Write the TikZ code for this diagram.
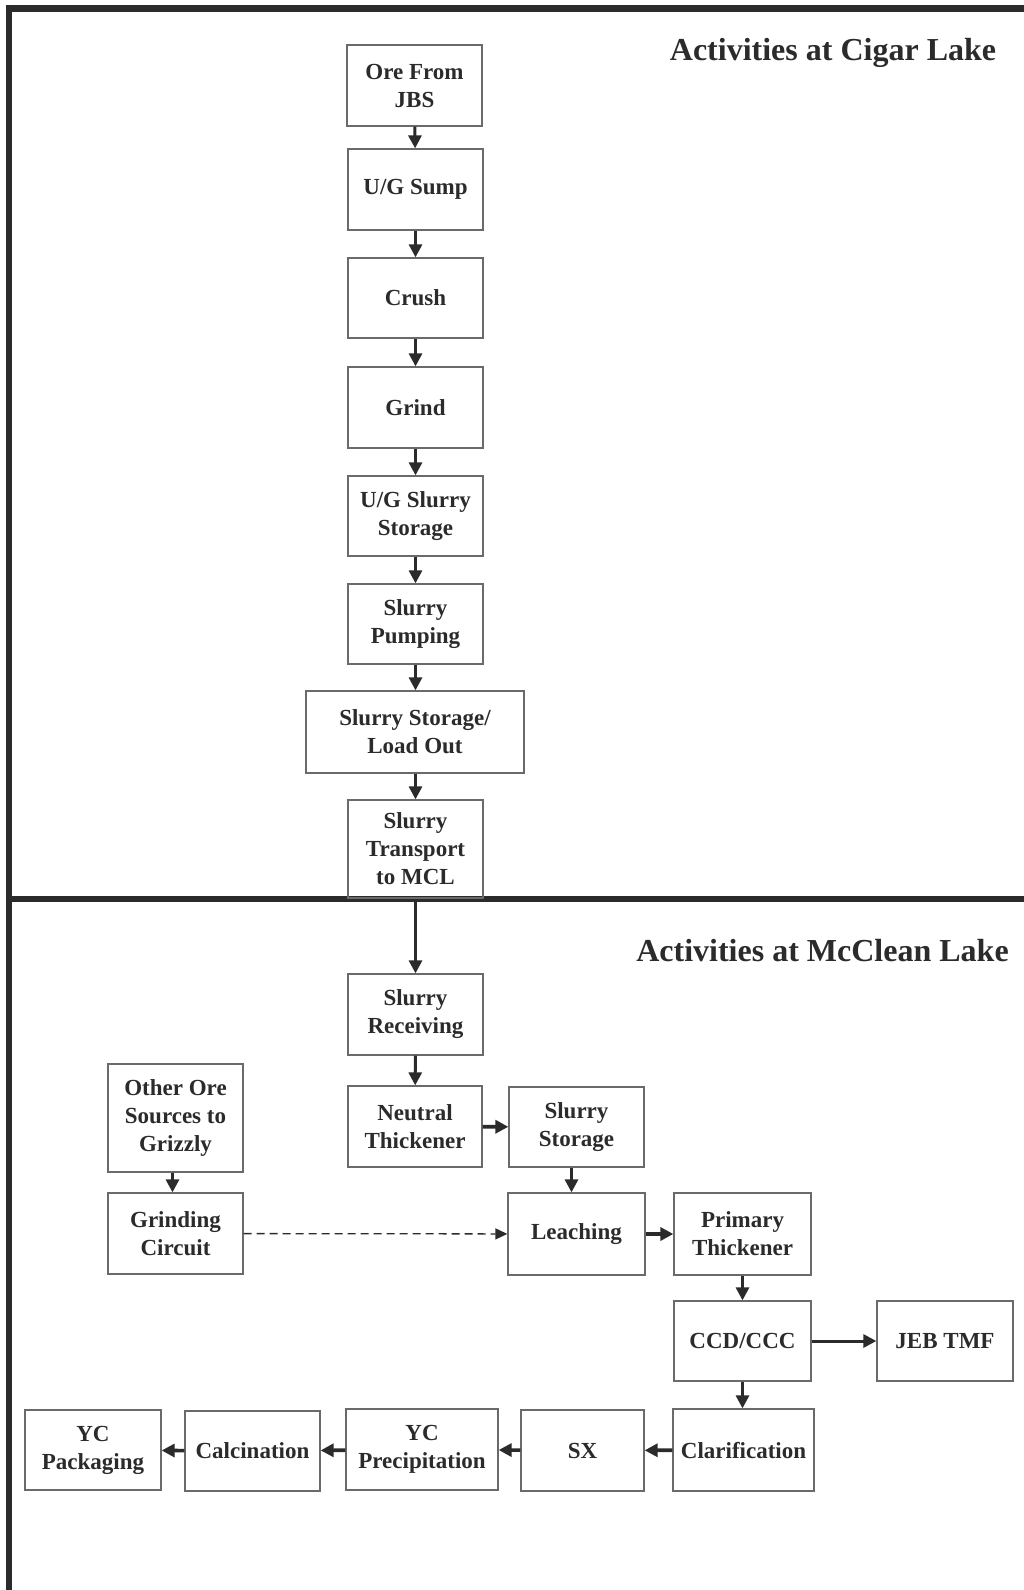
\documentclass[tikz,border=0pt]{standalone}
\usepackage{fontspec}
\setmainfont{Liberation Serif}
\usetikzlibrary{arrows.meta}
\definecolor{ink}{HTML}{2B2B2B}
\definecolor{boxline}{HTML}{6A6A6A}
\begin{document}
\begin{tikzpicture}[x=1pt,y=-1pt,
  box/.style={draw=boxline, line width=1.3pt, rectangle, align=center, inner sep=0pt,
    text=ink, font=\bfseries\fontsize{23}{28}\selectfont,
    minimum width=135pt, minimum height=81pt},
  flow/.style={draw=ink, line width=3pt, -{Triangle[length=13pt,width=13pt]}},
  hflow/.style={draw=ink, line width=3.6pt, -{Triangle[length=13pt,width=13pt]}},
  dflow/.style={draw=ink, line width=1.3pt, dash pattern=on 8pt off 5pt, -{Triangle[length=12pt,width=11pt]}},
  frame/.style={draw=ink, line width=6.5pt},
  title/.style={text=ink, font=\bfseries\fontsize{32}{36}\selectfont, inner sep=0pt, anchor=base}
]
\useasboundingbox (0,0) rectangle (1024,1590);
\fill[white] (0,0) rectangle (1024,1590);

% frame
\coordinate (tl) at (9,8.5);
\coordinate (tr) at (1024,8.5);
\coordinate (bl) at (9,1590);
\coordinate (ml) at (9,899);
\coordinate (mr) at (1024,899);
\draw[frame] ([xshift=-3.25pt]tl) -- (tr);
\draw[frame] (tl) -- (bl);
\draw[frame, line width=6pt] (ml) -- (mr);

% titles
\node[title] (t1) at (833,60) {Activities at Cigar Lake};
\node[title] (t2) at (822.5,961) {Activities at McClean Lake};

% Cigar Lake boxes
\node[box] (ore)   at (414.5,85.5) {Ore From\\JBS};
\node[box] (sump)  at (415.5,189.5) {U/G Sump};
\node[box, minimum height=80pt] (crush) at (415.5,298) {Crush};
\node[box] (grind) at (415.5,407.5) {Grind};
\node[box, minimum height=80pt] (ugss)  at (415.5,516) {U/G Slurry\\Storage};
\node[box, minimum height=80pt] (pump)  at (415.5,624) {Slurry\\Pumping};
\node[box, minimum width=218pt, minimum height=82pt] (load) at (415,732) {Slurry Storage/\\Load Out};
\node[box, minimum height=98pt] (trans) at (415.5,849) {Slurry\\Transport\\to MCL};

% McClean Lake boxes
\node[box] (recv)  at (415.5,1014.5) {Slurry\\Receiving};
\node[box, minimum width=134pt] (neut) at (415,1126.5) {Neutral\\Thickener};
\node[box, minimum height=80pt] (sstor) at (576.5,1127) {Slurry\\Storage};
\node[box, minimum height=108pt] (other) at (175.5,1118) {Other Ore\\Sources to\\Grizzly};
\node[box] (grc)   at (175.5,1233.5) {Grinding\\Circuit};
\node[box, minimum width=137pt, minimum height=82pt] (leach) at (576.5,1234) {Leaching};
\node[box, minimum width=137pt, minimum height=82pt] (prim)  at (742.5,1234) {Primary\\Thickener};
\node[box, minimum width=137pt, minimum height=80pt] (ccd)   at (742.5,1341) {CCD/CCC};
\node[box, minimum width=136pt, minimum height=80pt] (jeb)   at (945,1341) {JEB TMF};
\node[box, minimum width=141pt, minimum height=82pt] (clar)  at (743.5,1450) {Clarification};
\node[box, minimum width=123pt] (sx)    at (582.5,1450.5) {SX};
\node[box, minimum width=152pt] (ycp)   at (422,1449.5) {YC\\Precipitation};
\node[box, minimum height=80pt] (calc)  at (252.5,1451) {Calcination};
\node[box, minimum width=136pt, minimum height=80pt] (ycpk)  at (93,1450) {YC\\Packaging};

% Cigar Lake flow
\draw[flow] (ore) -- (sump);
\draw[flow] (sump) -- (crush);
\draw[flow] (crush) -- (grind);
\draw[flow] (grind) -- (ugss);
\draw[flow] (ugss) -- (pump);
\draw[flow] (pump) -- (load.north -| pump.south);
\draw[flow] (load.south -| trans.north) -- (trans);
\draw[flow] (trans) -- (recv);

% McClean Lake flow
\draw[flow] (recv) -- (neut);
\draw[hflow] (neut) -- (sstor);
\draw[flow] ([xshift=-5pt]sstor.south) -- ([xshift=-5pt]leach.north);
\draw[flow] ([xshift=-3pt]other.south) -- ([xshift=-3pt]grc.north);
\draw[dflow] (grc) -- (leach);
\draw[hflow] (leach) -- (prim);
\draw[flow] (prim) -- (ccd);
\draw[flow] (ccd) -- (jeb);
\draw[flow] (ccd.south) -- (ccd.south |- clar.north);
\draw[hflow] (clar) -- (sx);
\draw[hflow] (sx) -- (ycp);
\draw[hflow] (ycp) -- (calc);
\draw[hflow] (calc) -- (ycpk);
\end{tikzpicture}
\end{document}
